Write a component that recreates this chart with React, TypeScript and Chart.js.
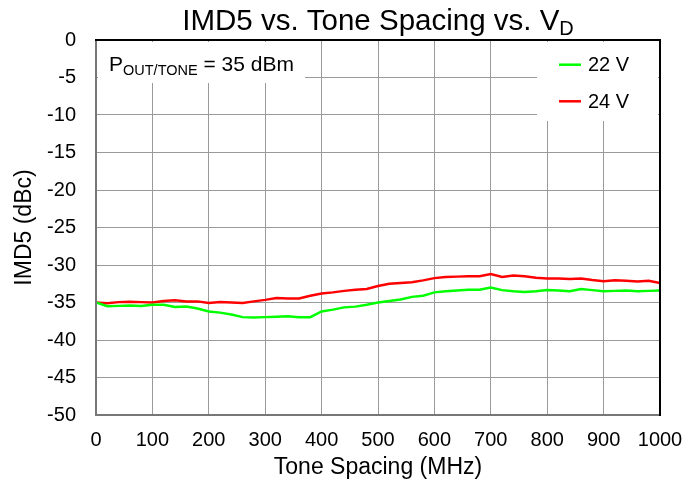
import React, { useEffect, useRef } from "react";
import { Chart, registerables } from "chart.js";

Chart.register(...registerables);

const toneSpacing = [
  0, 20, 40, 60, 80, 100, 120, 140, 160, 180, 200, 220, 240, 260, 280, 300, 320, 340, 360, 380,
  400, 420, 440, 460, 480, 500, 520, 540, 560, 580, 600, 620, 640, 660, 680, 700, 720, 740, 760, 780,
  800, 820, 840, 860, 880, 900, 920, 940, 960, 980, 1000,
];

const imd5_22V = [
  -35.0, -35.5, -35.45, -35.4, -35.45, -35.3, -35.3, -35.6, -35.55, -35.8, -36.2, -36.35, -36.6, -36.95, -37.0, -36.95, -36.9, -36.85, -36.95, -36.95,
  -36.2, -35.95, -35.65, -35.55, -35.3, -35.0, -34.8, -34.6, -34.25, -34.1, -33.65, -33.5, -33.4, -33.3, -33.3, -33.0, -33.35, -33.5, -33.6, -33.5,
  -33.35, -33.4, -33.5, -33.2, -33.35, -33.5, -33.45, -33.4, -33.5, -33.45, -33.4,
];

const imd5_24V = [
  -35.0, -35.1, -34.95, -34.9, -34.95, -35.0, -34.8, -34.7, -34.85, -34.85, -35.05, -34.95, -35.0, -35.05, -34.85, -34.65, -34.4, -34.45, -34.45, -34.1,
  -33.8, -33.65, -33.45, -33.3, -33.2, -32.8, -32.5, -32.4, -32.3, -32.05, -31.75, -31.6, -31.55, -31.5, -31.5, -31.2, -31.6, -31.4, -31.5, -31.7,
  -31.8, -31.8, -31.85, -31.8, -32.0, -32.15, -32.05, -32.1, -32.2, -32.1, -32.4,
];

const seriesLabels = ["22 V", "24 V"];
const seriesColors = ["#00ff00", "#ff0000"];

const FONT = "'Liberation Sans', Arial, Helvetica, sans-serif";

const overlayPlugin = {
  id: "overlay",
  afterDraw(chart: any) {
    const ctx = chart.ctx;
    const { left, right, top, bottom } = chart.chartArea;
    ctx.save();

    // annotation box
    ctx.fillStyle = "#ffffff";
    ctx.fillRect(left + 2, top + 2, 207, 41);
    // legend box
    ctx.fillRect(537, top + 2, right - 537 - 2, 79);

    // annotation text
    ctx.fillStyle = "#000000";
    ctx.textBaseline = "alphabetic";
    ctx.textAlign = "left";
    let x = left + 13;
    const base = top + 30.5;
    ctx.font = `21px ${FONT}`;
    ctx.fillText("P", x, base);
    x += ctx.measureText("P").width;
    ctx.font = `14.5px ${FONT}`;
    ctx.fillText("OUT/TONE", x, base + 4.5);
    x += ctx.measureText("OUT/TONE").width;
    ctx.font = `21px ${FONT}`;
    ctx.fillText(" = 35 dBm", x, base);

    // legend
    const ds = chart.data.datasets;
    ctx.font = `20px ${FONT}`;
    ctx.textBaseline = "middle";
    ds.forEach((d: any, i: number) => {
      const y = top + 24.7 + i * 36.6;
      ctx.strokeStyle = d.borderColor;
      ctx.lineWidth = 2.5;
      ctx.beginPath();
      ctx.moveTo(559, y);
      ctx.lineTo(581, y);
      ctx.stroke();
      ctx.fillStyle = "#000000";
      ctx.fillText(d.label, 588, y + 1);
    });

    // borders
    ctx.lineWidth = 2;
    ctx.strokeStyle = "#777777";
    ctx.beginPath();
    ctx.moveTo(left, top);
    ctx.lineTo(left, bottom);
    ctx.lineTo(right, bottom);
    ctx.stroke();
    ctx.strokeStyle = "#000000";
    ctx.beginPath();
    ctx.moveTo(left - 1, top);
    ctx.lineTo(right, top);
    ctx.lineTo(right, bottom + 1);
    ctx.stroke();

    // title
    const t1 = "IMD5 vs. Tone Spacing vs. V";
    const t2 = "D";
    ctx.textBaseline = "alphabetic";
    ctx.font = `29.5px ${FONT}`;
    const w1 = ctx.measureText(t1).width;
    ctx.font = `20px ${FONT}`;
    const w2 = ctx.measureText(t2).width;
    const startX = (left + right) / 2 - (w1 + w2) / 2;
    ctx.fillStyle = "#000000";
    ctx.font = `29.5px ${FONT}`;
    ctx.fillText(t1, startX, 29.5);
    ctx.font = `20px ${FONT}`;
    ctx.fillText(t2, startX + w1, 35);

    ctx.restore();
  },
};

export default function App() {
  const ref = useRef<HTMLCanvasElement | null>(null);

  useEffect(() => {
    if (!ref.current) return;
    const data22 = toneSpacing.map((x, i) => ({ x, y: imd5_22V[i] }));
    const data24 = toneSpacing.map((x, i) => ({ x, y: imd5_24V[i] }));
    const chart = new Chart(ref.current, {
      type: "line",
      data: {
        datasets: [
          {
            label: seriesLabels[0],
            data: data22,
            borderColor: seriesColors[0],
            backgroundColor: seriesColors[0],
            borderWidth: 2.5,
            pointRadius: 0,
            tension: 0,
          },
          {
            label: seriesLabels[1],
            data: data24,
            borderColor: seriesColors[1],
            backgroundColor: seriesColors[1],
            borderWidth: 2.5,
            pointRadius: 0,
            tension: 0,
          },
        ],
      },
      options: {
        responsive: false,
        animation: false,
        devicePixelRatio: 1,
        layout: { padding: { top: 40, right: 40, left: 0, bottom: 0 } },
        plugins: {
          legend: { display: false },
          title: { display: false },
          tooltip: { enabled: false },
        },
        scales: {
          x: {
            type: "linear",
            min: 0,
            max: 1000,
            ticks: {
              stepSize: 100,
              padding: 13,
              color: "#000000",
              font: { family: FONT, size: 20 },
              maxRotation: 0,
              callback: (v: any) => String(v),
            },
            grid: { color: "#9a9a9a", lineWidth: 1, drawTicks: false },
            border: { display: false },
            title: {
              display: true,
              text: "Tone Spacing (MHz)",
              color: "#000000",
              font: { family: FONT, size: 23 },
              padding: { top: 0, bottom: 5 },
            },
            afterFit: (s: any) => {
              s.height = 71;
            },
          },
          y: {
            type: "linear",
            min: -50,
            max: 0,
            ticks: {
              stepSize: 5,
              padding: 20,
              color: "#000000",
              font: { family: FONT, size: 20 },
              callback: (v: any) => String(v),
            },
            grid: { color: "#9a9a9a", lineWidth: 1, drawTicks: false },
            border: { display: false },
            title: {
              display: true,
              text: "IMD5 (dBc)",
              color: "#000000",
              font: { family: FONT, size: 23 },
              padding: { top: 10.5, bottom: 0 },
            },
            afterFit: (s: any) => {
              s.width = 96;
            },
          },
        },
      },
      plugins: [overlayPlugin],
    });
    return () => chart.destroy();
  }, []);

  return (
    <div style={{ position: "absolute", left: 0, top: 0, width: 700, height: 486, background: "#ffffff" }}>
      <canvas ref={ref} width={700} height={486} style={{ width: 700, height: 486 }} />
    </div>
  );
}
